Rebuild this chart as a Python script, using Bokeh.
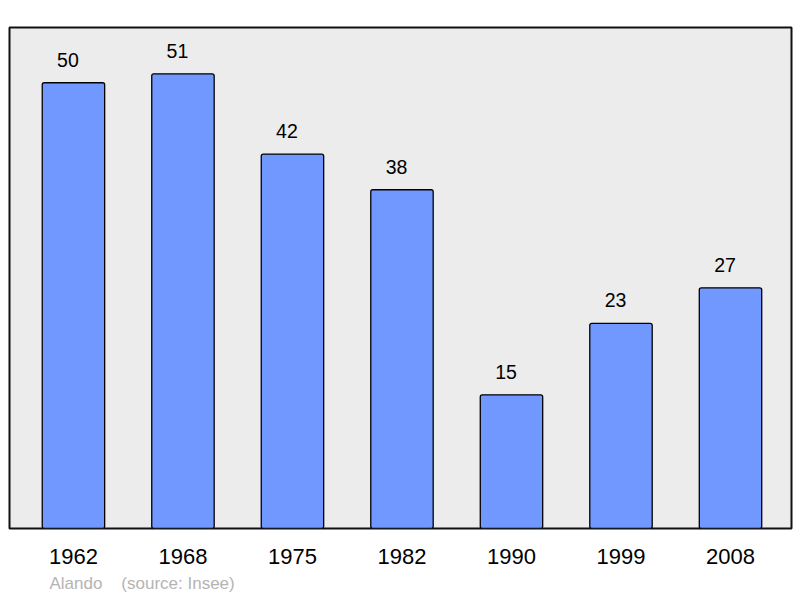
from bokeh.plotting import figure
from bokeh.models import Range1d, FixedTicker, ColumnDataSource, Title
from bokeh.core.properties import value
from bokeh.embed import file_html
from bokeh.resources import INLINE

years = ["1962", "1968", "1975", "1982", "1990", "1999", "2008"]
population = [50, 51, 42, 38, 15, 23, 27]
footer_name = "Alando"
footer_source = "(source: Insee)"

idx = list(range(len(years)))
src = ColumnDataSource(dict(x=idx, top=population, label=[str(v) for v in population]))

FONT = "Liberation Sans"

p = figure(width=800, height=598, output_backend="svg", toolbar_location=None,
           x_range=Range1d(-0.584, 6.557), y_range=Range1d(0, 56.2),
           min_border_left=9, min_border_right=9, min_border_top=27, min_border_bottom=70)

p.background_fill_color = "#ececec"
p.border_fill_color = "white"
p.outline_line_color = "#111111"
p.outline_line_width = 2
p.grid.visible = False
p.yaxis.visible = False

p.xaxis.ticker = FixedTicker(ticks=idx)
p.xaxis.major_label_overrides = {i: y for i, y in zip(idx, years)}
p.xaxis.axis_line_color = None
p.xaxis.major_tick_line_color = None
p.xaxis.minor_tick_line_color = None
p.xaxis.major_label_text_font = FONT
p.xaxis.major_label_text_font_size = "22px"
p.xaxis.major_label_text_color = "black"
p.xaxis.major_label_standoff = 14

p.vbar(x="x", top="top", width=0.57, bottom=0, source=src,
       fill_color="#7198ff", line_color="black", line_width=1.3, border_radius=2)

p.text(x="x", y="top", text="label", source=src, text_align="center",
       text_baseline="alphabetic", x_offset=-5.5, y_offset=-23, text_font=value(FONT),
       text_font_size="19.5px", text_color="black")

footer = Title(text=footer_name + "\u00a0\u00a0\u00a0\u00a0" + footer_source,
               align="left", offset=40, text_font=FONT, text_font_size="17px",
               text_font_style="normal", text_color="#b4b4b4", standoff=11)
p.add_layout(footer, "below")

open("out.html", "w").write(file_html(p, INLINE))
